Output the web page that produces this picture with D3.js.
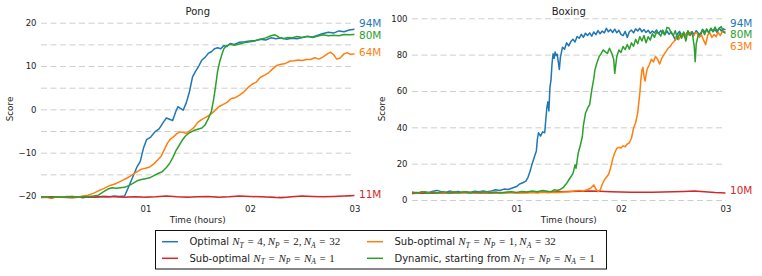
<!DOCTYPE html>
<html>
<head>
<meta charset="utf-8">
<script src="https://cdn.jsdelivr.net/npm/d3@7"></script>
<style>
body { margin: 0; background: #fff; }
text { font-family: "DejaVu Sans", sans-serif; fill: #222; }
</style>
</head>
<body>
<svg id="chart" width="762" height="276"></svg>
<script>
// ---- Data: [time in hours, score] ----
var pongOptimal = [[0,-20.3],[0.05,-20.2],[0.1,-20.4],[0.15,-20.2],[0.2,-20.3],[0.25,-20.1],[0.3,-20.3],[0.35,-20.2],[0.4,-20.4],[0.45,-20.2],[0.5,-20.3],[0.55,-20.2],[0.6,-20.1],[0.65,-20.2],[0.7,-20.0],[0.75,-20.1],[0.8,-20.0],[0.84,-17.8],[0.88,-15.5],[0.92,-13.2],[0.95,-12.0],[0.98,-9.0],[1.01,-7.0],[1.05,-6.4],[1.09,-5.2],[1.13,-4.5],[1.17,-3.0],[1.2,-2.0],[1.23,-2.3],[1.26,-2.6],[1.29,-0.5],[1.31,0.6],[1.33,0.3],[1.36,-0.2],[1.39,1.5],[1.42,4.0],[1.45,7.5],[1.48,8.8],[1.51,10.0],[1.54,11.4],[1.57,12.0],[1.6,12.9],[1.63,13.3],[1.66,14.0],[1.69,14.2],[1.72,14.0],[1.75,14.7],[1.78,14.5],[1.81,15.2],[1.85,15.0],[1.9,15.5],[1.95,15.6],[2.0,15.8],[2.05,15.9],[2.1,16.2],[2.15,16.0],[2.2,16.5],[2.25,16.3],[2.3,16.5],[2.35,16.2],[2.4,16.4],[2.45,16.3],[2.5,16.6],[2.55,16.8],[2.6,16.7],[2.65,17.1],[2.7,17.5],[2.75,17.8],[2.8,17.6],[2.85,18.1],[2.9,17.9],[2.95,18.3],[3.0,18.5]];
var pongSub1 = [[0,-20.3],[0.1,-20.2],[0.2,-20.3],[0.3,-20.4],[0.4,-20.2],[0.5,-20.3],[0.6,-20.1],[0.7,-20.2],[0.8,-20.3],[0.9,-20.2],[1.0,-20.3],[1.1,-20.2],[1.2,-20.0],[1.3,-20.2],[1.4,-20.3],[1.5,-20.2],[1.6,-20.1],[1.7,-20.3],[1.8,-20.2],[1.9,-20.0],[2.0,-20.1],[2.1,-20.2],[2.2,-20.3],[2.3,-20.4],[2.4,-20.2],[2.5,-20.0],[2.6,-20.1],[2.7,-20.2],[2.8,-20.1],[2.9,-20.0],[3.0,-19.9]];
var pongSub32 = [[0,-20.4],[0.05,-20.3],[0.1,-20.5],[0.15,-20.2],[0.2,-20.3],[0.25,-20.2],[0.3,-20.1],[0.35,-20.3],[0.4,-20.0],[0.45,-19.8],[0.5,-19.4],[0.55,-18.8],[0.6,-18.3],[0.63,-17.9],[0.67,-17.5],[0.72,-17.1],[0.77,-16.5],[0.82,-15.9],[0.87,-15.2],[0.92,-14.4],[0.96,-13.8],[1.0,-13.6],[1.04,-13.3],[1.08,-12.6],[1.12,-11.6],[1.15,-10.8],[1.18,-9.3],[1.21,-7.8],[1.24,-6.8],[1.27,-6.3],[1.3,-5.6],[1.33,-5.2],[1.36,-5.3],[1.39,-5.6],[1.42,-5.0],[1.46,-4.3],[1.5,-3.0],[1.54,-2.3],[1.58,-1.8],[1.62,-1.2],[1.66,-0.4],[1.7,0.6],[1.74,1.1],[1.78,1.6],[1.82,2.5],[1.86,2.7],[1.9,3.3],[1.94,4.0],[1.98,5.0],[2.02,5.8],[2.06,6.3],[2.1,7.4],[2.14,7.9],[2.18,8.5],[2.22,9.4],[2.26,10.2],[2.3,10.4],[2.34,10.6],[2.38,11.1],[2.42,11.2],[2.46,11.4],[2.5,11.3],[2.54,11.5],[2.58,11.5],[2.62,11.9],[2.66,11.6],[2.7,12.1],[2.74,12.8],[2.77,13.2],[2.8,12.6],[2.83,11.6],[2.86,11.8],[2.9,12.8],[2.93,13.1],[2.96,12.7],[3.0,12.8]];
var pongDynamic = [[0,-20.3],[0.05,-20.2],[0.1,-20.4],[0.15,-20.2],[0.2,-20.3],[0.25,-20.2],[0.3,-20.1],[0.35,-20.3],[0.4,-20.2],[0.45,-20.1],[0.5,-20.0],[0.55,-19.8],[0.6,-19.0],[0.64,-18.4],[0.68,-18.1],[0.72,-18.2],[0.76,-18.1],[0.8,-18.0],[0.84,-17.6],[0.88,-17.1],[0.92,-16.5],[0.96,-16.2],[1.0,-16.0],[1.04,-15.8],[1.08,-15.3],[1.12,-14.8],[1.16,-14.4],[1.2,-13.4],[1.23,-12.5],[1.26,-11.2],[1.29,-9.6],[1.32,-8.4],[1.35,-7.2],[1.38,-6.2],[1.42,-5.4],[1.46,-4.9],[1.5,-4.6],[1.54,-4.3],[1.57,-3.6],[1.6,-2.2],[1.63,-0.5],[1.65,2.0],[1.67,5.2],[1.69,8.8],[1.71,11.0],[1.73,12.6],[1.75,14.0],[1.78,14.7],[1.81,15.0],[1.85,14.8],[1.9,15.1],[1.95,15.4],[2.0,15.6],[2.05,15.8],[2.1,16.2],[2.15,16.5],[2.2,17.0],[2.24,17.2],[2.28,16.6],[2.32,16.3],[2.36,16.6],[2.4,16.5],[2.45,16.8],[2.5,16.6],[2.55,16.9],[2.6,16.6],[2.65,16.9],[2.7,17.2],[2.75,17.0],[2.8,17.1],[2.85,17.0],[2.9,17.3],[2.95,17.2],[3.0,17.3]];

var boxingOptimal = [[0,3.6],[0.04,4.2],[0.08,3.8],[0.12,4.5],[0.16,4.1],[0.2,4.8],[0.24,5.3],[0.28,4.6],[0.32,4.2],[0.36,4.9],[0.4,4.4],[0.44,4.7],[0.48,4.2],[0.52,4.6],[0.56,4.3],[0.6,4.8],[0.64,4.5],[0.68,4.9],[0.72,4.6],[0.76,5.0],[0.8,5.6],[0.84,5.2],[0.88,6.0],[0.92,5.8],[0.96,6.6],[1.0,7.4],[1.03,8.8],[1.06,9.5],[1.09,10.4],[1.11,12.5],[1.13,15.8],[1.15,20.0],[1.17,23.5],[1.19,27.0],[1.2,33.5],[1.21,37.0],[1.23,35.2],[1.25,37.5],[1.27,37.0],[1.28,44.0],[1.29,50.5],[1.3,54.0],[1.31,49.0],[1.32,62.0],[1.33,66.0],[1.34,75.0],[1.35,80.5],[1.36,78.0],[1.37,81.5],[1.38,79.5],[1.39,80.2],[1.4,76.0],[1.41,71.8],[1.42,78.5],[1.44,84.0],[1.46,83.0],[1.48,86.5],[1.5,84.8],[1.52,87.2],[1.54,88.5],[1.56,87.0],[1.58,90.0],[1.6,89.0],[1.62,91.2],[1.64,89.5],[1.66,91.8],[1.68,90.5],[1.7,92.0],[1.72,90.2],[1.74,92.5],[1.76,91.0],[1.78,93.2],[1.8,91.5],[1.82,93.0],[1.84,92.0],[1.86,94.5],[1.88,92.6],[1.9,93.8],[1.92,92.2],[1.94,94.0],[1.96,92.0],[1.98,93.4],[2.0,91.2],[2.02,90.5],[2.04,92.8],[2.06,89.5],[2.08,92.6],[2.1,93.5],[2.12,92.0],[2.14,94.2],[2.16,93.0],[2.18,94.5],[2.2,92.6],[2.22,93.8],[2.24,92.2],[2.26,93.4],[2.28,91.8],[2.3,93.0],[2.32,92.0],[2.34,93.6],[2.36,91.5],[2.38,93.2],[2.4,92.0],[2.42,91.0],[2.44,93.0],[2.46,91.2],[2.48,92.5],[2.5,90.6],[2.52,88.0],[2.54,91.5],[2.56,92.8],[2.58,90.8],[2.6,92.0],[2.62,90.5],[2.64,93.0],[2.66,91.4],[2.68,92.6],[2.7,91.0],[2.72,93.2],[2.74,91.8],[2.76,90.2],[2.78,94.0],[2.8,92.5],[2.82,93.6],[2.84,92.0],[2.86,94.4],[2.88,92.6],[2.9,93.8],[2.92,92.2],[2.94,94.6],[2.96,93.0],[2.98,94.2],[3.0,93.6]];
var boxingSub1 = [[0,3.6],[0.1,3.9],[0.2,3.7],[0.3,4.0],[0.4,3.8],[0.5,4.1],[0.6,3.9],[0.7,4.0],[0.8,3.8],[0.9,4.1],[1.0,4.0],[1.1,4.2],[1.2,4.3],[1.3,4.4],[1.4,4.5],[1.5,4.7],[1.6,4.8],[1.7,4.9],[1.8,4.8],[1.9,4.6],[2.0,4.4],[2.1,4.3],[2.2,4.3],[2.3,4.2],[2.4,4.4],[2.5,4.5],[2.6,4.7],[2.7,4.9],[2.8,4.6],[2.9,4.1],[3.0,3.9]];
var boxingSub32 = [[0,4.2],[0.05,3.8],[0.1,4.4],[0.15,4.0],[0.2,4.3],[0.25,3.9],[0.3,4.2],[0.35,4.0],[0.4,4.4],[0.45,3.9],[0.5,4.1],[0.55,4.3],[0.6,3.8],[0.65,4.2],[0.7,4.0],[0.75,4.3],[0.8,3.9],[0.85,4.1],[0.9,3.8],[0.95,4.2],[1.0,3.9],[1.05,4.0],[1.1,3.8],[1.15,4.1],[1.2,3.9],[1.25,4.2],[1.3,4.0],[1.35,4.3],[1.4,4.1],[1.45,4.4],[1.5,4.6],[1.55,4.9],[1.6,5.3],[1.64,5.0],[1.68,5.8],[1.71,6.5],[1.74,8.3],[1.76,6.0],[1.78,4.6],[1.8,5.4],[1.82,8.5],[1.84,11.0],[1.86,12.5],[1.88,14.0],[1.9,17.5],[1.92,22.5],[1.94,26.0],[1.96,28.4],[1.98,29.0],[2.0,28.6],[2.02,29.8],[2.04,29.3],[2.06,30.8],[2.08,31.5],[2.1,34.0],[2.12,39.5],[2.14,42.5],[2.16,48.0],[2.18,58.7],[2.19,66.0],[2.2,71.5],[2.21,73.0],[2.22,68.0],[2.23,65.5],[2.25,72.0],[2.27,74.3],[2.29,77.5],[2.31,76.0],[2.33,79.0],[2.35,77.5],[2.37,74.8],[2.39,78.0],[2.41,80.0],[2.43,81.6],[2.45,83.5],[2.47,84.4],[2.49,86.2],[2.51,87.5],[2.53,89.9],[2.55,88.2],[2.57,90.0],[2.59,91.5],[2.61,89.5],[2.63,92.0],[2.65,90.8],[2.67,92.5],[2.69,90.0],[2.71,92.0],[2.73,91.7],[2.75,89.5],[2.77,91.0],[2.79,88.0],[2.81,85.5],[2.83,90.8],[2.85,92.0],[2.87,89.5],[2.89,91.0],[2.91,89.9],[2.93,92.2],[2.95,90.5],[2.97,92.8],[3.0,92.6]];
var boxingDynamic = [[0,4.4],[0.05,3.9],[0.1,4.5],[0.15,3.7],[0.2,4.3],[0.25,4.0],[0.3,4.6],[0.35,3.8],[0.4,4.4],[0.45,4.0],[0.5,4.5],[0.55,3.9],[0.6,4.4],[0.65,4.1],[0.7,4.6],[0.75,4.0],[0.8,4.4],[0.85,3.9],[0.9,4.3],[0.95,4.6],[1.0,4.2],[1.05,4.7],[1.1,4.4],[1.15,4.9],[1.2,4.5],[1.25,5.2],[1.3,4.8],[1.33,4.6],[1.36,5.6],[1.39,5.2],[1.42,5.8],[1.45,7.0],[1.48,9.2],[1.5,11.0],[1.52,12.8],[1.54,14.5],[1.56,19.3],[1.57,17.5],[1.59,25.7],[1.61,30.0],[1.63,34.8],[1.64,41.0],[1.66,47.7],[1.68,50.5],[1.7,52.5],[1.72,60.5],[1.74,67.0],[1.75,71.5],[1.77,75.5],[1.79,78.9],[1.81,80.5],[1.83,82.6],[1.85,81.5],[1.87,80.7],[1.89,83.5],[1.91,81.0],[1.93,77.5],[1.94,69.7],[1.96,79.0],[1.98,82.6],[2.0,81.2],[2.02,84.5],[2.04,82.8],[2.06,85.6],[2.08,83.0],[2.1,86.5],[2.12,84.6],[2.14,88.4],[2.16,86.0],[2.18,89.9],[2.2,87.5],[2.22,90.5],[2.24,86.5],[2.26,89.9],[2.28,88.0],[2.3,91.5],[2.32,89.5],[2.34,92.4],[2.36,91.7],[2.38,90.2],[2.4,93.5],[2.42,91.0],[2.44,95.0],[2.46,94.5],[2.48,92.0],[2.5,90.5],[2.52,93.2],[2.54,88.5],[2.56,91.7],[2.58,89.0],[2.6,92.5],[2.62,87.5],[2.64,93.0],[2.66,90.5],[2.68,92.6],[2.7,85.0],[2.71,76.1],[2.72,86.0],[2.74,91.0],[2.76,91.7],[2.78,93.5],[2.8,91.0],[2.82,94.2],[2.84,92.0],[2.86,94.5],[2.88,92.8],[2.9,95.2],[2.92,93.0],[2.94,94.6],[2.96,95.4],[2.98,92.5],[3.0,91.7]];

// End-of-run labels (frames seen) and the score they sit at
var pongEndText = ["94M", "80M", "64M", "11M"];
var pongEndScore = [19.8, 17.1, 13.2, -19.5];
var boxingEndText = ["94M", "80M", "63M", "10M"];
var boxingEndScore = [97.4, 91.0, 84.5, 5.5];

var timeTicks = [1, 2, 3];
var pongGrid = [-20, -15, -10, -5, 0, 5, 10, 15, 20];
var pongLabels = [-20, -10, 0, 10, 20];
var boxingGrid = [0, 20, 40, 60, 80, 100];

// Legend: optimal, sub-optimal 1, sub-optimal 32, dynamic
var legendText = ["Optimal ", "Sub-optimal ", "Sub-optimal ", "Dynamic, starting from "];
var legendMath = ["N_T=4, N_P=2, N_A=32", "N_T=N_P=N_A=1", "N_T=N_P=1, N_A=32", "N_T=N_P=N_A=1"];
var colors = ["#1f77b4", "#d62728", "#ff7f0e", "#2ca02c"];
var endColors = ["#1f77b4", "#2ca02c", "#ff7f0e", "#d62728"];

var svg = d3.select("#chart");
var fmt = d3.format("d");

var drawPanel = function(cfg) {
    var g = svg.append("g");
    var plotW = 313.5;

    var x = d3.scaleLinear().domain([0, 3]).range([cfg.left, cfg.left + plotW]);
    var y = d3.scaleLinear().domain(cfg.yDomain).range(cfg.yRange);

    // Grid + y labels
    var yAxis = g.append("g")
        .attr("transform", "translate(" + cfg.left + ",0)")
        .call(d3.axisLeft(y)
            .tickValues(cfg.grid)
            .tickSize(-plotW)
            .tickPadding(4.5)
            .tickFormat(function(d) { return cfg.labels.indexOf(d) >= 0 ? fmt(d) : ""; }));
    yAxis.attr("font-family", null).attr("font-size", null);
    yAxis.select(".domain").remove();
    yAxis.selectAll(".tick line")
        .attr("stroke", "#c8c8c8")
        .attr("stroke-width", 0.9)
        .attr("stroke-dasharray", "6,3.5");
    yAxis.selectAll(".tick text").attr("font-size", "8.5px").attr("fill", "#222");

    // x axis
    var xAxis = g.append("g")
        .attr("transform", "translate(0,203)")
        .call(d3.axisBottom(x)
            .tickValues(timeTicks)
            .tickSize(0)
            .tickPadding(3)
            .tickFormat(function(d) { return "0" + d; }));
    xAxis.attr("font-family", null).attr("font-size", null);
    xAxis.select(".domain").remove();
    xAxis.selectAll(".tick text").attr("font-size", "8.5px").attr("fill", "#222");

    // Lines, in plotting order
    var line = d3.line()
        .x(function(d) { return x(d[0]); })
        .y(function(d) { return y(d[1]); });

    cfg.series.forEach(function(s, i) {
        g.append("path")
            .datum(s)
            .attr("d", line)
            .attr("fill", "none")
            .attr("stroke", colors[i])
            .attr("stroke-width", 1.5)
            .attr("stroke-linejoin", "round");
    });

    // End labels
    cfg.endText.forEach(function(t, i) {
        g.append("text")
            .attr("x", cfg.left + plotW + 4.5)
            .attr("y", y(cfg.endScore[i]))
            .attr("dy", "0.36em")
            .attr("font-size", "10.5px")
            .style("fill", endColors[i])
            .text(t);
    });

    // Titles
    g.append("text")
        .attr("x", cfg.left + plotW / 2)
        .attr("y", 15)
        .attr("text-anchor", "middle")
        .attr("font-size", "10px")
        .text(cfg.title);

    g.append("text")
        .attr("x", cfg.left + plotW / 2)
        .attr("y", 223)
        .attr("text-anchor", "middle")
        .attr("font-size", "8.8px")
        .text("Time (hours)");

    g.append("text")
        .attr("transform", "translate(" + cfg.scoreX + ",109) rotate(-90)")
        .attr("text-anchor", "middle")
        .attr("dy", "0.36em")
        .attr("font-size", "8.8px")
        .text("Score");
};

drawPanel({
    title: "Pong", left: 41, scoreX: 10,
    yDomain: [-20, 20], yRange: [196, 22.7],
    grid: pongGrid, labels: pongLabels,
    series: [pongOptimal, pongSub1, pongSub32, pongDynamic],
    endText: pongEndText, endScore: pongEndScore
});

drawPanel({
    title: "Boxing", left: 412, scoreX: 381.5,
    yDomain: [0, 100], yRange: [200, 18.3],
    grid: boxingGrid, labels: boxingGrid,
    series: [boxingOptimal, boxingSub1, boxingSub32, boxingDynamic],
    endText: boxingEndText, endScore: boxingEndScore
});

// ---- Legend ----
var legend = svg.append("g");
legend.append("rect")
    .attr("x", 155.5).attr("y", 230.5)
    .attr("width", 451).attr("height", 38.5)
    .attr("fill", "#fff")
    .attr("stroke", "#111")
    .attr("stroke-width", 1);

var colX = [162, 367];
var rowY = [241.7, 258.3];

// write "N_T=4, ..." as italic serif tspans with subscripts
var addMath = function(textSel, str) {
    var parts = str.split(/(N_[A-Z])/).filter(function(p) { return p.length; });
    var lowered = false;
    parts.forEach(function(p) {
        if (p.charAt(0) == "N" && p.charAt(1) == "_") {
            textSel.append("tspan")
                .attr("font-family", "'Liberation Serif', serif")
                .attr("font-style", "italic")
                .attr("font-size", "11px")
                .attr("dy", lowered ? -2.5 : 0)
                .text("N");
            textSel.append("tspan")
                .attr("font-family", "'Liberation Serif', serif")
                .attr("font-style", "italic")
                .attr("font-size", "7.5px")
                .attr("dy", 2.5)
                .text(p.charAt(2));
            lowered = true;
        } else {
            var s = p.replace(/=/g, "\u2004=\u2004").replace(/, /g, ",\u2009");
            textSel.append("tspan")
                .attr("font-family", "'Liberation Serif', serif")
                .attr("font-size", "11px")
                .attr("dy", lowered ? -2.5 : 0)
                .text(s);
            lowered = false;
        }
    });
};

legendText.forEach(function(t, i) {
    var cx = colX[Math.floor(i / 2)];
    var cy = rowY[i % 2];
    legend.append("line")
        .attr("x1", cx).attr("x2", cx + 16)
        .attr("y1", cy).attr("y2", cy)
        .attr("stroke", colors[i])
        .attr("stroke-width", 1.5);
    var txt = legend.append("text")
        .attr("x", cx + 27.5)
        .attr("y", cy + 3.5)
        .attr("font-size", "10px");
    txt.append("tspan").text(t);
    addMath(txt, legendMath[i]);
});
</script>
</body>
</html>
